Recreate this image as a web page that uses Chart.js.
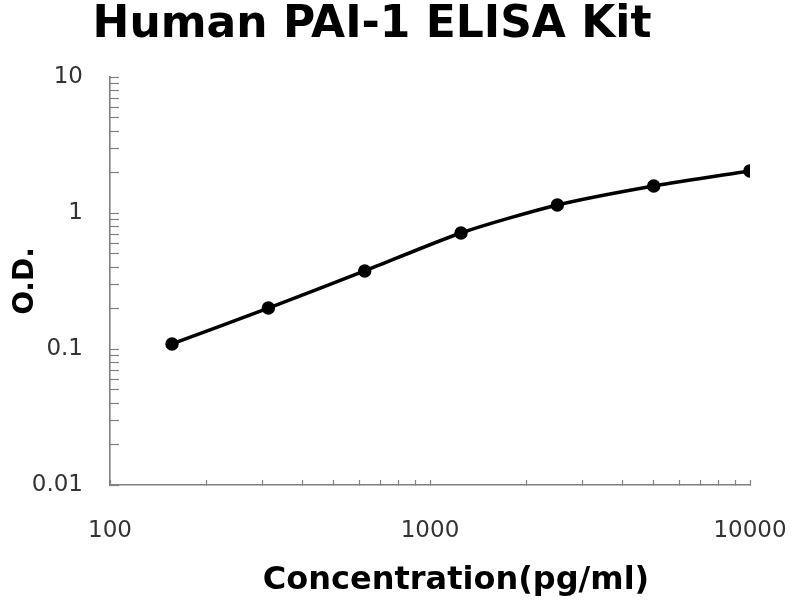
<!DOCTYPE html>
<html>
<head>
<meta charset="utf-8">
<script src="https://cdn.jsdelivr.net/npm/chart.js@4/dist/chart.umd.min.js"></script>
<style>
  html, body { margin: 0; padding: 0; background: #ffffff; }
  #wrap { width: 800px; height: 600px; }
</style>
</head>
<body>
<div id="wrap"><canvas id="c" width="800" height="600"></canvas></div>
<script>
// ---- data ----
const chartTitle = "Human PAI-1 ELISA Kit";
const xAxisTitle = "Concentration(pg/ml)";
const yAxisTitle = "O.D.";
const concentrations = [156.25, 312.5, 625, 1250, 2500, 5000, 10000];
const odValues = [0.109, 0.200, 0.375, 0.713, 1.145, 1.58, 2.04];
const xMajorTicks = [100, 1000, 10000];
const yMajorTicks = [0.01, 0.1, 1, 10];
const xTickLabels = ["100", "1000", "10000"];
const yTickLabels = ["0.01", "0.1", "1", "10"];

function logTicks(majors) {
  const out = [];
  for (let i = 0; i < majors.length; i++) {
    out.push(majors[i]);
    if (i < majors.length - 1) {
      for (let k = 2; k <= 9; k++) out.push(+(majors[i] * k).toPrecision(6));
    }
  }
  return out.map(v => ({ value: v }));
}
function labelFor(value, majors, labels) {
  for (let i = 0; i < majors.length; i++) {
    if (Math.abs(value - majors[i]) / majors[i] < 1e-6) return labels[i];
  }
  return "";
}

const titlesPlugin = {
  id: 'titlesPlugin',
  afterDraw(chart) {
    const ctx = chart.ctx;
    const area = chart.chartArea;
    ctx.save();
    ctx.fillStyle = '#000000';
    ctx.textAlign = 'center';
    ctx.textBaseline = 'alphabetic';
    ctx.font = 'bold 44px "DejaVu Sans"';
    ctx.fillText(chartTitle, area.left + 262, 37);
    ctx.font = 'bold 32px "DejaVu Sans"';
    ctx.fillText(xAxisTitle, (area.left + area.right) / 2 + 26, 589);
    ctx.restore();
  }
};

const data = {
  datasets: [{
    data: concentrations.map((c, i) => ({ x: c, y: odValues[i] })),
    borderColor: '#000000',
    backgroundColor: '#000000',
    borderWidth: 3.5,
    pointRadius: 5,
    pointBackgroundColor: '#000000',
    pointBorderColor: '#000000',
    tension: 0.25,
    fill: false
  }]
};

new Chart(document.getElementById('c'), {
  type: 'line',
  data: data,
  plugins: [titlesPlugin],
  options: {
    responsive: false,
    animation: false,
    devicePixelRatio: 1,
    layout: { padding: { top: 77, right: 50, bottom: 0, left: 0 } },
    plugins: {
      legend: { display: false },
      title: { display: false },
      tooltip: { enabled: false }
    },
    scales: {
      x: {
        type: 'logarithmic',
        min: 100,
        max: 10000,
        afterBuildTicks: s => { s.ticks = logTicks(xMajorTicks); },
        afterFit: s => { s.height = 115; s.paddingLeft = 0; s.paddingRight = 0; },
        ticks: {
          autoSkip: false,
          maxRotation: 0,
          padding: 37,
          color: '#333333',
          font: { family: 'DejaVu Sans', size: 23 },
          callback: v => labelFor(v, xMajorTicks, xTickLabels)
        },
        grid: {
          drawOnChartArea: false,
          tickLength: -5,
          color: '#808080',
          tickWidth: 1.2
        },
        border: { color: '#808080', width: 1.6 }
      },
      y: {
        type: 'logarithmic',
        min: 0.01,
        max: 10,
        afterBuildTicks: s => { s.ticks = logTicks(yMajorTicks); },
        afterFit: s => { s.width = 110; },
        ticks: {
          autoSkip: false,
          padding: 36,
          color: '#333333',
          font: { family: 'DejaVu Sans', size: 23 },
          callback: v => labelFor(v, yMajorTicks, yTickLabels)
        },
        grid: {
          drawOnChartArea: false,
          tickLength: -9,
          color: '#808080',
          tickWidth: 1.2
        },
        border: { color: '#808080', width: 1.6 },
        title: {
          display: true,
          text: yAxisTitle,
          color: '#000000',
          font: { family: 'DejaVu Sans', size: 28, weight: 'bold' },
          padding: { top: 9, bottom: 0 }
        }
      }
    }
  }
});
</script>
</body>
</html>
